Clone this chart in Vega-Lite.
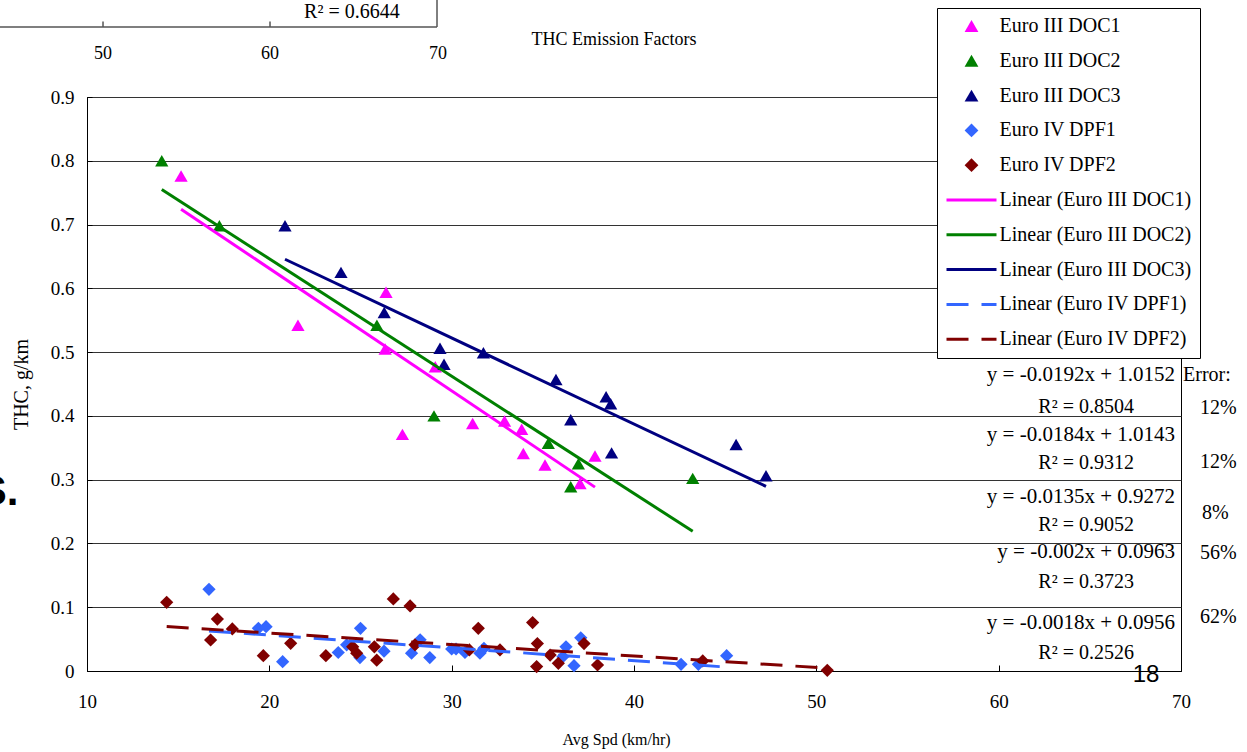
{
  "$schema": "https://vega.github.io/schema/vega-lite/v6.json",
  "width": 1094,
  "height": 574,
  "autosize": {"type": "none"},
  "padding": {"left": 87, "top": 97, "right": 66, "bottom": 81},
  "background": "white",
  "config": {
    "font": "Liberation Serif",
    "view": {"stroke": "#000", "strokeWidth": 1}
  },
  "datasets": {
    "points": [
      {"series": "Euro III DOC1", "x": 15.16, "y": 0.776},
      {"series": "Euro III DOC1", "x": 21.57, "y": 0.542},
      {"series": "Euro III DOC1", "x": 26.4, "y": 0.594},
      {"series": "Euro III DOC1", "x": 26.35, "y": 0.505},
      {"series": "Euro III DOC1", "x": 27.3, "y": 0.371},
      {"series": "Euro III DOC1", "x": 29.1, "y": 0.477},
      {"series": "Euro III DOC1", "x": 31.15, "y": 0.388},
      {"series": "Euro III DOC1", "x": 32.9, "y": 0.392},
      {"series": "Euro III DOC1", "x": 33.84, "y": 0.379},
      {"series": "Euro III DOC1", "x": 33.93, "y": 0.341},
      {"series": "Euro III DOC1", "x": 35.12, "y": 0.323},
      {"series": "Euro III DOC1", "x": 37.04, "y": 0.294},
      {"series": "Euro III DOC1", "x": 37.86, "y": 0.337},
      {"series": "Euro III DOC2", "x": 14.1, "y": 0.8},
      {"series": "Euro III DOC2", "x": 17.26, "y": 0.698},
      {"series": "Euro III DOC2", "x": 25.9, "y": 0.542},
      {"series": "Euro III DOC2", "x": 29.03, "y": 0.4},
      {"series": "Euro III DOC2", "x": 35.3, "y": 0.357},
      {"series": "Euro III DOC2", "x": 36.95, "y": 0.325},
      {"series": "Euro III DOC2", "x": 36.53, "y": 0.289},
      {"series": "Euro III DOC2", "x": 43.22, "y": 0.302},
      {"series": "Euro III DOC3", "x": 20.86, "y": 0.698},
      {"series": "Euro III DOC3", "x": 23.93, "y": 0.625},
      {"series": "Euro III DOC3", "x": 26.3, "y": 0.562},
      {"series": "Euro III DOC3", "x": 29.36, "y": 0.506},
      {"series": "Euro III DOC3", "x": 29.58, "y": 0.481},
      {"series": "Euro III DOC3", "x": 31.74, "y": 0.499},
      {"series": "Euro III DOC3", "x": 35.72, "y": 0.457},
      {"series": "Euro III DOC3", "x": 38.47, "y": 0.43},
      {"series": "Euro III DOC3", "x": 38.72, "y": 0.419},
      {"series": "Euro III DOC3", "x": 36.53, "y": 0.394},
      {"series": "Euro III DOC3", "x": 38.77, "y": 0.342},
      {"series": "Euro III DOC3", "x": 45.6, "y": 0.355},
      {"series": "Euro III DOC3", "x": 47.24, "y": 0.306},
      {"series": "Euro IV DPF1", "x": 16.69, "y": 0.128},
      {"series": "Euro IV DPF1", "x": 19.4, "y": 0.067},
      {"series": "Euro IV DPF1", "x": 19.82, "y": 0.0695},
      {"series": "Euro IV DPF1", "x": 20.73, "y": 0.0146},
      {"series": "Euro IV DPF1", "x": 23.78, "y": 0.029},
      {"series": "Euro IV DPF1", "x": 24.24, "y": 0.041},
      {"series": "Euro IV DPF1", "x": 24.97, "y": 0.021},
      {"series": "Euro IV DPF1", "x": 25.0, "y": 0.067},
      {"series": "Euro IV DPF1", "x": 26.29, "y": 0.031},
      {"series": "Euro IV DPF1", "x": 27.8, "y": 0.028},
      {"series": "Euro IV DPF1", "x": 28.27, "y": 0.049},
      {"series": "Euro IV DPF1", "x": 28.8, "y": 0.021},
      {"series": "Euro IV DPF1", "x": 30.0, "y": 0.0345},
      {"series": "Euro IV DPF1", "x": 30.24, "y": 0.0345},
      {"series": "Euro IV DPF1", "x": 30.73, "y": 0.029},
      {"series": "Euro IV DPF1", "x": 31.55, "y": 0.028},
      {"series": "Euro IV DPF1", "x": 31.77, "y": 0.0355},
      {"series": "Euro IV DPF1", "x": 36.27, "y": 0.038},
      {"series": "Euro IV DPF1", "x": 36.1, "y": 0.0225},
      {"series": "Euro IV DPF1", "x": 36.71, "y": 0.0083},
      {"series": "Euro IV DPF1", "x": 37.08, "y": 0.052},
      {"series": "Euro IV DPF1", "x": 42.58, "y": 0.0105},
      {"series": "Euro IV DPF1", "x": 43.53, "y": 0.0105},
      {"series": "Euro IV DPF1", "x": 45.08, "y": 0.024},
      {"series": "Euro IV DPF2", "x": 14.37, "y": 0.1077},
      {"series": "Euro IV DPF2", "x": 17.15, "y": 0.0815},
      {"series": "Euro IV DPF2", "x": 16.78, "y": 0.0486},
      {"series": "Euro IV DPF2", "x": 17.97, "y": 0.0659},
      {"series": "Euro IV DPF2", "x": 19.67, "y": 0.024},
      {"series": "Euro IV DPF2", "x": 21.17, "y": 0.0434},
      {"series": "Euro IV DPF2", "x": 23.1, "y": 0.024},
      {"series": "Euro IV DPF2", "x": 24.57, "y": 0.038},
      {"series": "Euro IV DPF2", "x": 24.79, "y": 0.028},
      {"series": "Euro IV DPF2", "x": 25.76, "y": 0.038},
      {"series": "Euro IV DPF2", "x": 25.89, "y": 0.017},
      {"series": "Euro IV DPF2", "x": 26.8, "y": 0.113},
      {"series": "Euro IV DPF2", "x": 27.72, "y": 0.102},
      {"series": "Euro IV DPF2", "x": 27.99, "y": 0.041},
      {"series": "Euro IV DPF2", "x": 30.97, "y": 0.033},
      {"series": "Euro IV DPF2", "x": 31.46, "y": 0.067},
      {"series": "Euro IV DPF2", "x": 32.65, "y": 0.033},
      {"series": "Euro IV DPF2", "x": 34.44, "y": 0.076},
      {"series": "Euro IV DPF2", "x": 34.7, "y": 0.043},
      {"series": "Euro IV DPF2", "x": 34.66, "y": 0.007},
      {"series": "Euro IV DPF2", "x": 35.4, "y": 0.025},
      {"series": "Euro IV DPF2", "x": 35.85, "y": 0.012},
      {"series": "Euro IV DPF2", "x": 37.26, "y": 0.043},
      {"series": "Euro IV DPF2", "x": 38.0, "y": 0.0094},
      {"series": "Euro IV DPF2", "x": 43.77, "y": 0.0157},
      {"series": "Euro IV DPF2", "x": 50.6, "y": 0.001}
    ],
    "trends": [
      {"trend": "Linear (Euro III DOC1)", "kind": "solid", "x": 15.16, "y": 0.7241},
      {"trend": "Linear (Euro III DOC1)", "kind": "solid", "x": 37.86, "y": 0.2883},
      {"trend": "Linear (Euro III DOC2)", "kind": "solid", "x": 14.1, "y": 0.7549},
      {"trend": "Linear (Euro III DOC2)", "kind": "solid", "x": 43.22, "y": 0.2191},
      {"trend": "Linear (Euro III DOC3)", "kind": "solid", "x": 20.86, "y": 0.6456},
      {"trend": "Linear (Euro III DOC3)", "kind": "solid", "x": 47.24, "y": 0.2895},
      {"trend": "Linear (Euro IV DPF1)", "kind": "dash", "x": 16.69, "y": 0.0629},
      {"trend": "Linear (Euro IV DPF1)", "kind": "dash", "x": 45.08, "y": 0.0061},
      {"trend": "Linear (Euro IV DPF2)", "kind": "dash", "x": 14.37, "y": 0.0697},
      {"trend": "Linear (Euro IV DPF2)", "kind": "dash", "x": 50.6, "y": 0.0045}
    ],
    "equations": [
      {"text": "y = -0.0192x + 1.0152", "x": 69.67, "y": 0.464},
      {"text": "y = -0.0184x + 1.0143", "x": 69.67, "y": 0.37},
      {"text": "y = -0.0135x + 0.9272", "x": 69.67, "y": 0.273},
      {"text": "y = -0.002x + 0.0963", "x": 69.67, "y": 0.187},
      {"text": "y = -0.0018x + 0.0956", "x": 69.67, "y": 0.075}
    ],
    "rsq": [
      {"text": "R² = 0.8504", "x": 64.8, "y": 0.414},
      {"text": "R² = 0.9312", "x": 64.8, "y": 0.326},
      {"text": "R² = 0.9052", "x": 64.8, "y": 0.229},
      {"text": "R² = 0.3723", "x": 64.8, "y": 0.14},
      {"text": "R² = 0.2526", "x": 64.8, "y": 0.028},
      {"text": "R² = 0.6644", "x": 24.53, "y": 1.0332}
    ],
    "errors": [
      {"text": "Error:", "x": 70.11, "y": 0.464},
      {"text": "12%", "x": 71.04, "y": 0.412},
      {"text": "12%", "x": 71.04, "y": 0.328},
      {"text": "8%", "x": 71.15, "y": 0.248},
      {"text": "56%", "x": 71.04, "y": 0.185},
      {"text": "62%", "x": 71.04, "y": 0.085}
    ],
    "fragLabels": [
      {"text": "50", "x": 10.878, "y": 0.9674},
      {"text": "60", "x": 20.037, "y": 0.9674},
      {"text": "70", "x": 29.25, "y": 0.9674}
    ],
    "fragRules": [
      {"x": 5.2, "x2": 29.196, "y": 1.0097, "y2": 1.0097},
      {"x": 29.196, "x2": 29.196, "y": 1.0097, "y2": 1.06},
      {"x": 10.878, "x2": 10.878, "y": 1.0097, "y2": 1.0185},
      {"x": 20.037, "x2": 20.037, "y": 1.0097, "y2": 1.0185}
    ],
    "chartTitle": [{"text": "THC Emission Factors", "x": 38.9, "y": 0.9893}],
    "slideBig": [{"text": "S.", "x": 6.243, "y": 0.2603}],
    "slideNum": [{"text": "18", "x": 68.08, "y": -0.0063}]
  },
  "encoding": {
    "x": {
      "field": "x",
      "type": "quantitative",
      "scale": {"domain": [10, 70], "nice": false, "zero": false},
      "axis": {
        "title": "Avg Spd (km/hr)",
        "values": [10, 20, 30, 40, 50, 60, 70],
        "grid": false,
        "labelFlush": false,
        "tickSize": -6,
        "tickColor": "#000",
        "domainColor": "#000",
        "labelFont": "Liberation Serif",
        "labelFontSize": 19,
        "labelColor": "#000",
        "labelPadding": 27,
        "titleFont": "Liberation Serif",
        "titleFontSize": 16,
        "titleFontWeight": "normal",
        "titleColor": "#000",
        "titlePadding": 20,
        "titleX": 529
      }
    },
    "y": {
      "field": "y",
      "type": "quantitative",
      "scale": {"domain": [0, 0.9], "nice": false, "zero": true},
      "axis": {
        "title": "THC, g/km",
        "values": [0, 0.1, 0.2, 0.3, 0.4, 0.5, 0.6, 0.7, 0.8, 0.9],
        "format": ".1~f",
        "grid": true,
        "labelFlush": false,
        "gridColor": "#333",
        "gridWidth": 1,
        "tickSize": -5,
        "tickColor": "#000",
        "domainColor": "#000",
        "labelFont": "Liberation Serif",
        "labelFontSize": 19,
        "labelColor": "#000",
        "labelPadding": 18,
        "titleFont": "Liberation Serif",
        "titleFontSize": 20,
        "titleFontWeight": "normal",
        "titleColor": "#000",
        "titlePadding": 19
      }
    }
  },
  "layer": [
    {
      "data": {"name": "points"},
      "mark": {"type": "point", "filled": true, "size": 175, "opacity": 1, "strokeWidth": 0},
      "encoding": {
        "color": {
          "field": "series",
          "type": "nominal",
          "scale": {
            "domain": ["Euro III DOC1", "Euro III DOC2", "Euro III DOC3", "Euro IV DPF1", "Euro IV DPF2", "Linear (Euro III DOC1)", "Linear (Euro III DOC2)", "Linear (Euro III DOC3)", "Linear (Euro IV DPF1)", "Linear (Euro IV DPF2)"],
            "range": ["#FF00FF", "#008000", "#000080", "#3366FF", "#800000", "#FF00FF", "#008000", "#000080", "#3366FF", "#800000"]
          },
          "legend": {
            "orient": "none",
            "legendX": 850,
            "legendY": -89,
            "title": null,
            "labelFont": "Liberation Serif",
            "labelFontSize": 20,
            "labelColor": "#000",
            "labelLimit": 400,
            "labelOffset": 18,
            "symbolOffset": 16.5,
            "symbolSize": 2500,
            "symbolStrokeWidth": 3,
            "strokeColor": "#000",
            "fillColor": "#fff",
            "padding": 8,
            "rowPadding": 14.8,
            "encoding": {
              "symbols": {
                "shape": {"value": {"expr": "datum.value > 'F' ? 'stroke' : (datum.value >= 'Euro IV' ? 'diamond' : 'triangle-up')"}},
                "size": {"value": {"expr": "datum.value > 'F' ? 2500 : 190"}},
                "fill": {"value": {"expr": "datum.value === 'Euro III DOC1' ? '#FF00FF' : datum.value === 'Euro III DOC2' ? '#008000' : datum.value === 'Euro III DOC3' ? '#000080' : datum.value === 'Euro IV DPF1' ? '#3366FF' : datum.value === 'Euro IV DPF2' ? '#800000' : 'transparent'"}},
                "stroke": {"value": {"expr": "datum.value === 'Linear (Euro III DOC1)' ? '#FF00FF' : datum.value === 'Linear (Euro III DOC2)' ? '#008000' : datum.value === 'Linear (Euro III DOC3)' ? '#000080' : datum.value === 'Linear (Euro IV DPF1)' ? '#3366FF' : datum.value === 'Linear (Euro IV DPF2)' ? '#800000' : 'transparent'"}},
                "strokeWidth": {"value": {"expr": "datum.value > 'F' ? 3 : 0"}},
                "strokeDash": {"value": {"expr": "datum.value >= 'Linear (Euro IV' ? [22, 13] : []"}},
                "opacity": {"value": 1}
              }
            }
          }
        },
        "shape": {
          "field": "series",
          "type": "nominal",
          "scale": {
            "domain": ["Euro III DOC1", "Euro III DOC2", "Euro III DOC3", "Euro IV DPF1", "Euro IV DPF2"],
            "range": ["triangle-up", "triangle-up", "triangle-up", "diamond", "diamond"]
          },
          "legend": null
        }
      }
    },
    {
      "data": {"name": "trends"},
      "transform": [{"filter": "datum.kind === 'solid'"}],
      "mark": {"type": "line", "strokeWidth": 3},
      "encoding": {
        "color": {"field": "trend", "type": "nominal"}
      }
    },
    {
      "data": {"name": "trends"},
      "transform": [{"filter": "datum.kind === 'dash'"}],
      "mark": {"type": "line", "strokeWidth": 3, "strokeDash": [22, 13]},
      "encoding": {
        "color": {"field": "trend", "type": "nominal"}
      }
    },
    {
      "data": {"name": "equations"},
      "mark": {"type": "text", "align": "right", "baseline": "middle", "font": "Liberation Serif", "fontSize": 21, "color": "#000"},
      "encoding": {"text": {"field": "text"}}
    },
    {
      "data": {"name": "rsq"},
      "mark": {"type": "text", "align": "center", "baseline": "middle", "font": "Liberation Serif", "fontSize": 20, "color": "#000"},
      "encoding": {"text": {"field": "text"}}
    },
    {
      "data": {"name": "errors"},
      "mark": {"type": "text", "align": "left", "baseline": "middle", "font": "Liberation Serif", "fontSize": 20, "color": "#000"},
      "encoding": {"text": {"field": "text"}}
    },
    {
      "data": {"name": "fragLabels"},
      "mark": {"type": "text", "align": "center", "baseline": "middle", "font": "Liberation Serif", "fontSize": 18, "color": "#000"},
      "encoding": {"text": {"field": "text"}}
    },
    {
      "data": {"name": "chartTitle"},
      "mark": {"type": "text", "align": "center", "baseline": "middle", "font": "Liberation Serif", "fontSize": 18, "color": "#000"},
      "encoding": {"text": {"field": "text"}}
    },
    {
      "data": {"name": "fragRules"},
      "mark": {"type": "rule", "color": "#555", "strokeWidth": 1.5},
      "encoding": {
        "x2": {"field": "x2"},
        "y2": {"field": "y2"}
      }
    },
    {
      "data": {"name": "slideBig"},
      "mark": {"type": "text", "align": "right", "baseline": "alphabetic", "font": "Liberation Sans", "fontSize": 42, "fontWeight": "bold", "color": "#000"},
      "encoding": {"text": {"field": "text"}}
    },
    {
      "data": {"name": "slideNum"},
      "mark": {"type": "text", "align": "center", "baseline": "middle", "font": "Liberation Sans", "fontSize": 24, "color": "#000"},
      "encoding": {"text": {"field": "text"}}
    }
  ]
}
